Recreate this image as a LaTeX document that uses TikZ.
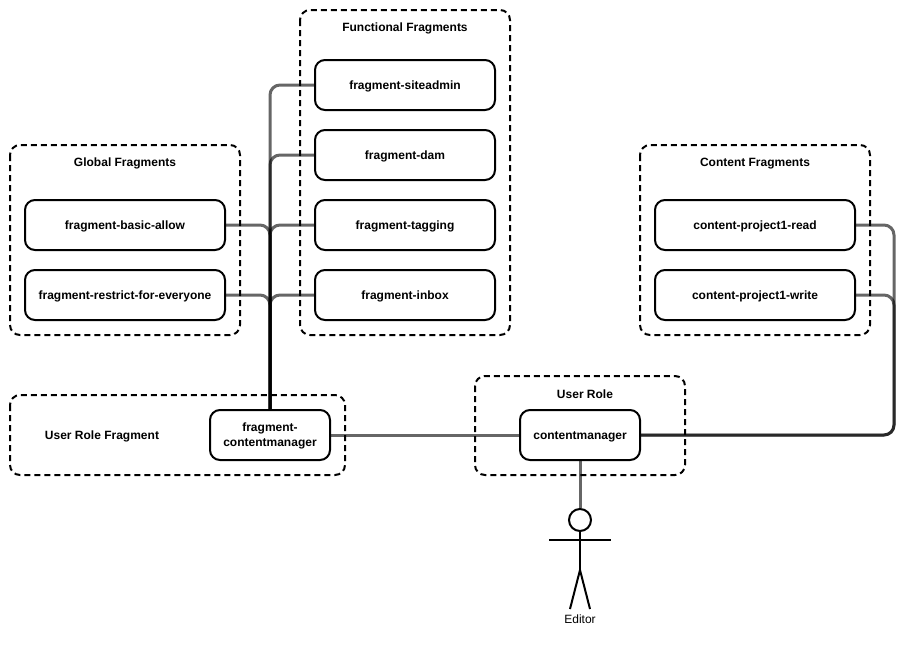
\documentclass[tikz,border=0pt]{standalone}
\usepackage{fontspec}
\setmainfont{Liberation Sans}
\usetikzlibrary{calc}

\begin{document}
\begin{tikzpicture}[
    x=1pt, y=-1pt,
    box/.style={draw, line width=2pt, rounded corners=10pt, minimum width=#1, minimum height=50pt, inner sep=0pt, fill=white, align=center, text height=9pt, text depth=0pt, font=\fontsize{12}{15}\selectfont\bfseries},
    group/.style={draw, line width=2pt, dash pattern=on 6pt off 4pt, rounded corners=10pt},
    title/.style={text height=9pt, text depth=0pt, font=\fontsize{12}{15}\selectfont\bfseries},
    conn/.style={draw=black, line width=3pt, opacity=0.6, rounded corners=10pt},
    limb/.style={draw, line width=2pt}
]
\useasboundingbox (0,0) rectangle (919,646);

% Global fragments
\draw[group] (10,145) rectangle (240,335);
\node[title] (globaltitle) at (125,162) {Global Fragments};
\node[box=200pt] (basic) at (125,225) {fragment-basic-allow};
\node[box=200pt] (restrict) at (125,295) {fragment-restrict-for-everyone};

% Functional fragments
\draw[group] (300,10) rectangle (510,335);
\node[title] (functitle) at (405,27) {Functional Fragments};
\node[box=180pt] (siteadmin) at (405,85) {fragment-siteadmin};
\node[box=180pt] (dam) at (405,155) {fragment-dam};
\node[box=180pt] (tagging) at (405,225) {fragment-tagging};
\node[box=180pt] (inbox) at (405,295) {fragment-inbox};

% Content fragments
\draw[group] (640,145) rectangle (870,335);
\node[title] (contenttitle) at (755,162) {Content Fragments};
\node[box=200pt] (read) at (755,225) {content-project1-read};
\node[box=200pt] (write) at (755,295) {content-project1-write};

% User role fragment
\draw[group] (10,395) rectangle (345,475);
\node[title] (fragtitle) at (102,435) {User Role Fragment};
\node[box=120pt, text height=22pt] (fragcm) at (270,435) {fragment-\\contentmanager};

% User role
\draw[group] (475,376) rectangle (685,475);
\node[title] (roletitle) at (585,394) {User Role};
\node[box=120pt] (role) at (580,435) {contentmanager};

% Actor
\node[draw, circle, line width=2pt, minimum size=22pt, inner sep=0pt] (head) at (580,520) {};
\coordinate (hip) at (580,570);
\coordinate (lfoot) at (570,609);
\coordinate (rfoot) at (590,609);
\coordinate (larm) at (549,539.5);
\coordinate (rarm) at (611,539.5);
\draw[limb] (head) -- (hip);
\draw[limb] (larm) -- (rarm);
\draw[limb] (lfoot) -- (hip) -- (rfoot);
\node[font=\fontsize{12}{15}\selectfont] (editor) at (580,619) {Editor};

% Connectors
\coordinate (bus) at (894,435);
\draw[conn] (siteadmin.west) -| (fragcm.north);
\draw[conn] (dam.west) -| (fragcm.north);
\draw[conn] (tagging.west) -| (fragcm.north);
\draw[conn] (inbox.west) -| (fragcm.north);
\draw[conn] (basic.east) -| (fragcm.north);
\draw[conn] (restrict.east) -| (fragcm.north);
\draw[conn] (fragcm.east) -- (role.west);
\draw[conn] (read.east) -| (bus) -- (role.east);
\draw[conn] (write.east) -| (bus) -- (role.east);
\draw[conn] (role.south) -- (head.north);

\end{tikzpicture}
\end{document}
